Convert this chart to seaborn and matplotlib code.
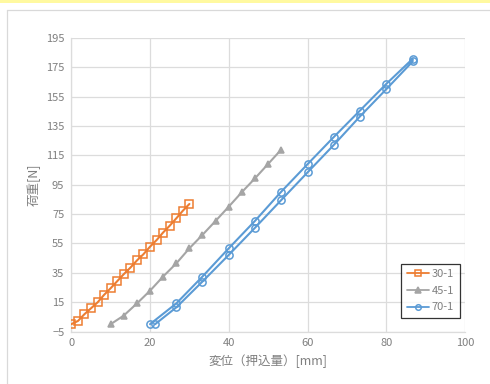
import matplotlib
matplotlib.use("Agg")
import matplotlib.pyplot as plt
import matplotlib.patches as mpatches
import matplotlib.lines as mlines
import pandas as pd
import seaborn as sns

# Load-displacement records (indentation tests)
x_30 = [0.0, 1.7, 3.3, 5.0, 6.7, 8.3, 10.0, 11.7, 13.3, 15.0, 16.7, 18.3,
        20.0, 21.7, 23.3, 25.0, 26.7, 28.3, 30.0]
y_30 = [0.0, 2.2, 6.7, 10.8, 14.9, 19.9, 24.5, 29.4, 34.0, 38.5, 43.5, 47.6,
        52.8, 57.4, 62.4, 67.1, 72.2, 77.2, 81.9]

x_45 = [10.0, 13.3, 16.7, 20.0, 23.3, 26.7, 30.0, 33.3, 36.7, 40.0, 43.3,
        46.7, 50.0, 53.3]
y_45 = [0.0, 5.8, 14.2, 22.8, 32.4, 41.5, 51.7, 60.8, 70.5, 80.1, 89.9,
        99.5, 109.2, 118.9]

# 70-1: loading branch followed by unloading branch
x_70 = [20.0, 26.7, 33.3, 40.0, 46.7, 53.3, 60.0, 66.7, 73.3, 80.0, 86.7,
        86.7, 80.0, 73.3, 66.7, 60.0, 53.3, 46.7, 40.0, 33.3, 26.7, 21.3]
y_70 = [0.0, 14.2, 32.4, 51.7, 70.5, 90.2, 109.0, 127.6, 145.5, 163.7, 180.8,
        179.0, 160.1, 141.5, 122.2, 103.4, 84.5, 65.8, 47.2, 29.0, 11.5, 0.0]

series_names = ["30-1", "45-1", "70-1"]
x_ticks = [0, 20, 40, 60, 80, 100]
y_ticks = [-5, 15, 35, 55, 75, 95, 115, 135, 155, 175, 195]

sns.set_theme(style="white")
plt.rcParams["font.family"] = ["Noto Sans CJK JP", "DejaVu Sans"]

colors = {"30-1": "#ED7D31", "45-1": "#A5A5A5", "70-1": "#5B9BD5"}
markers = {"30-1": "s", "45-1": "^", "70-1": "o"}
text_col = "#7F7F7F"
grid_col = "#DCDCDC"

fig = plt.figure(figsize=(4.9, 3.84), dpi=100)
fig.patch.set_facecolor("white")

# top banner strip and chart frame
fig.add_artist(mpatches.Rectangle((0, 1 - 3 / 384), 1, 3 / 384,
                                  transform=fig.transFigure,
                                  facecolor="#FFF9A0", edgecolor="none"))
fig.add_artist(mlines.Line2D([7 / 490, 7 / 490], [0, 1 - 10 / 384],
                             transform=fig.transFigure, color="#D9D9D9", lw=0.9))
fig.add_artist(mlines.Line2D([7 / 490, 1], [1 - 10 / 384, 1 - 10 / 384],
                             transform=fig.transFigure, color="#D9D9D9", lw=0.9))

ax = fig.add_axes([71.3 / 490, 1 - 331.5 / 384, (465 - 71.3) / 490, (331.5 - 38) / 384])

data = {"30-1": (x_30, y_30), "45-1": (x_45, y_45), "70-1": (x_70, y_70)}
for name in series_names:
    xs, ys = data[name]
    df = pd.DataFrame({"x": xs, "y": ys})
    face = colors[name] if name == "45-1" else "none"
    ms = 5 if name == "45-1" else 5.2
    sns.lineplot(data=df, x="x", y="y", ax=ax, sort=False, estimator=None,
                 color=colors[name], lw=1.5, marker=markers[name],
                 markersize=ms, markerfacecolor=face,
                 markeredgecolor=colors[name], markeredgewidth=1.1,
                 label=name, zorder=3)

ax.set_xlim(0, 100)
ax.set_ylim(-5, 195)
ax.set_xticks(x_ticks)
ax.set_yticks(y_ticks)
ax.grid(True, color=grid_col, lw=0.9)
ax.set_axisbelow(True)
for side in ["top", "right"]:
    ax.spines[side].set_visible(False)
for side in ["left", "bottom"]:
    ax.spines[side].set_color(grid_col)
    ax.spines[side].set_linewidth(0.9)
ax.tick_params(axis="both", length=0, labelsize=8, colors=text_col, pad=5)

ax.set_xlabel("変位（押込量）[mm]", fontsize=9, color=text_col, labelpad=4)
ax.set_ylabel("荷重[N]", fontsize=9, color=text_col, labelpad=4)

leg = ax.legend(loc="lower right", bbox_to_anchor=(0.9865, 0.046), borderaxespad=0,
                frameon=True, fancybox=False, fontsize=8, handlelength=2.0,
                borderpad=0.5, labelspacing=0.6, handletextpad=0.25)
leg.get_frame().set_edgecolor("black")
leg.get_frame().set_linewidth(0.9)
for t in leg.get_texts():
    t.set_color(text_col)
for h in leg.legend_handles:
    h.set_markersize(4)
    h.set_linewidth(1.3)

fig.savefig("out.png", dpi=100, facecolor="white")
